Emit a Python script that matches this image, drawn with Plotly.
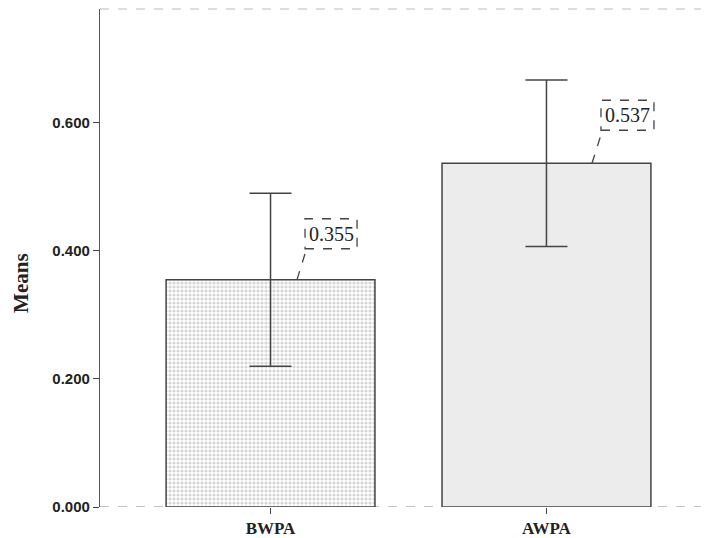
import plotly.graph_objects as go

categories = ["BWPA", "AWPA"]
means = [0.355, 0.537]
errors = [0.135, 0.130]
labels = ["0.355", "0.537"]
y_title = "Means"

fig = go.Figure()
fig.add_trace(go.Bar(
    x=[0, 1], y=means, width=0.757,
    marker=dict(
        color=["#d6d6d6", "#ececec"],
        line=dict(color="#444444", width=1.5),
        pattern=dict(shape=[".", ""], size=4, solidity=0.5,
                     fgcolor="#7a7a7a", bgcolor="#dedede", fillmode="replace"),
    ),
    error_y=dict(type="data", array=errors, visible=True, width=21,
                 thickness=1.5, color="#444444"),
    hoverinfo="skip",
))

# label box offsets (pixels relative to bar centre/top) -- styling only
box_offsets = [(34.5, 86.5, 31, 61, 26.5), (54.5, 107.5, 33, 63, 45.5)]
for i, (m, lab) in enumerate(zip(means, labels)):
    bx0, bx1, by0, by1, lx = box_offsets[i]
    fig.add_shape(type="rect", xref="x", yref="y", xsizemode="pixel", ysizemode="pixel",
                  xanchor=i, yanchor=m, x0=bx0, x1=bx1, y0=by0, y1=by1,
                  line=dict(color="#444444", width=1.3, dash="dash"), fillcolor="white")
    fig.add_shape(type="line", xref="x", yref="y", xsizemode="pixel", ysizemode="pixel",
                  xanchor=i, yanchor=m, x0=lx, x1=bx0 + 1.5, y0=0, y1=by0,
                  line=dict(color="#444444", width=1.3, dash="dash"))
    fig.add_annotation(x=i, y=m, xref="x", yref="y", text=lab, showarrow=False,
                       xshift=(bx0 + bx1) / 2, yshift=(by0 + by1) / 2,
                       font=dict(family="Liberation Serif", size=20, color="#222222"))

# y-axis title placed like the reference (slightly below centre)
fig.add_annotation(x=0, y=0.45, xref="paper", yref="paper", text=y_title,
                   showarrow=False, textangle=-90, xshift=-93,
                   font=dict(family="Liberation Serif", size=21, color="#222222", weight="bold"))

# dashed top frame and zero line
fig.add_shape(type="line", xref="paper", yref="paper", x0=0, x1=1, y0=1, y1=1,
              line=dict(color="#bbbbbb", width=1.2, dash="dash"), layer="below")
fig.add_shape(type="line", xref="paper", yref="y", x0=0, x1=1, y0=0, y1=0,
              line=dict(color="#888888", width=1.2, dash="dash"), layer="below")

fig.update_layout(
    width=701, height=530,
    margin=dict(l=92, r=0, t=1, b=31),
    paper_bgcolor="white", plot_bgcolor="white",
    showlegend=False,
    xaxis=dict(range=[-0.618, 1.589], tickmode="array", tickvals=[0, 1],
               ticktext=categories, ticks="outside", ticklen=6, tickcolor="#444444",
               showgrid=False, zeroline=False, showline=False,
               tickfont=dict(family="Liberation Serif", size=17, color="#222222", weight="bold")),
    yaxis=dict(range=[0, 0.778], dtick=0.2, tick0=0, tickformat=".3f",
               ticks="outside", ticklen=6, tickcolor="#444444",
               showgrid=False, zeroline=False, showline=True, linecolor="#555555", linewidth=1.2,
               tickfont=dict(family="Liberation Sans", size=15, color="#222222", weight="bold")),
)

fig.write_html("out.html")
